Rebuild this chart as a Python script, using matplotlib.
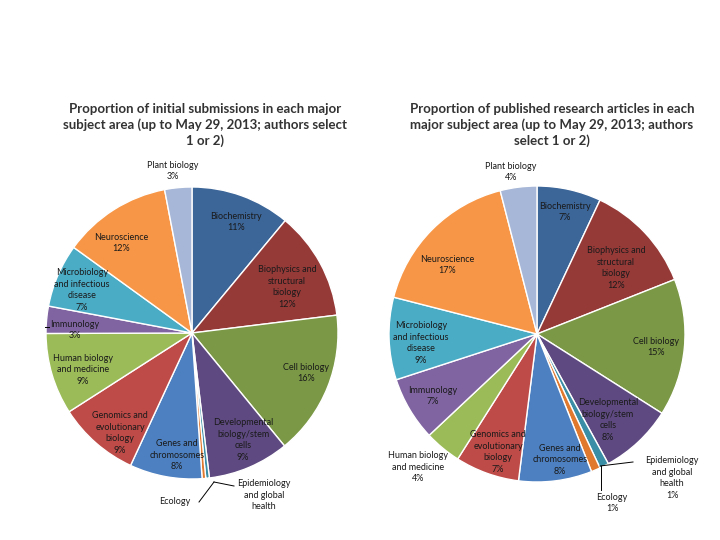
import matplotlib
matplotlib.use("Agg")
import matplotlib.pyplot as plt

categories = ["Biochemistry", "Biophysics and\nstructural\nbiology", "Cell biology",
              "Developmental\nbiology/stem\ncells", "Epidemiology\nand global\nhealth", "Ecology",
              "Genes and\nchromosomes", "Genomics and\nevolutionary\nbiology",
              "Human biology\nand medicine", "Immunology",
              "Microbiology\nand infectious\ndisease", "Neuroscience", "Plant biology"]
submissions = [11, 12, 16, 9, 0.4, 0.4, 8, 9, 9, 3, 7, 12, 3]
submission_labels = ["11%", "12%", "16%", "9%", "", "", "8%", "9%", "9%", "3%", "7%", "12%", "3%"]
published = [7, 12, 15, 8, 1, 1, 8, 7, 4, 7, 9, 17, 4]
published_labels = ["7%", "12%", "15%", "8%", "1%", "1%", "8%", "7%", "4%", "7%", "9%", "17%", "4%"]
title_left = "Proportion of initial submissions in each major\nsubject area (up to May 29, 2013; authors select\n1 or 2)"
title_right = "Proportion of published research articles in each\nmajor subject area (up to May 29, 2013; authors\nselect 1 or 2)"

colors = ["#3C6598", "#963A38", "#7A9845", "#5E4A80", "#3A8EA6", "#E0782E",
          "#4D80C0", "#BE4B48", "#9BBB59", "#8064A2", "#4BACC6", "#F79646", "#A7B7D7"]

# label layout (pixel coords, y from top)
left_pos = [(236, 222), (287, 287), (306, 373), (243, 440), (264, 495), (175, 502),
            (177, 455), (120, 433), (83, 370), (75, 330), (82, 290), (121, 243), (173, 171)]
right_pos = [(565, 212), (616, 268), (656, 347), (608, 420), (672, 478), (612, 503),
             (560, 460), (498, 452), (418, 467), (433, 396), (421, 343), (447, 265), (511, 172)]

W, H = 720, 540
fig = plt.figure(figsize=(7.2, 5.4), dpi=100)
ax = fig.add_axes([0, 0, 1, 1])

font = "Lato"

def draw(values, pcts, center, radius, pos):
    ax.pie(values, colors=colors, startangle=90, counterclock=False,
           center=(center[0], H - center[1]), radius=radius,
           wedgeprops=dict(edgecolor="white", linewidth=1.0), frame=True)
    for name, p, (x, y) in zip(categories, pcts, pos):
        txt = name + ("\n" + p if p else "")
        ax.text(x, H - y, txt, ha="center", va="center", fontsize=6.5,
                family=font, color="#1a1a1a", linespacing=1.35)

draw(submissions, submission_labels, (192, 333), 146, left_pos)
draw(published, published_labels, (537, 334), 148, right_pos)
ax.set_xlim(0, W)
ax.set_ylim(0, H)
ax.set_aspect("equal")
ax.axis("off")

# leader lines
lc = dict(color="black", linewidth=0.7)
ax.plot([214, 234], [H - 482, H - 486], **lc)
ax.plot([214, 199], [H - 482, H - 502], **lc)
ax.plot([45, 49], [H - 327, H - 327], **lc)
ax.plot([600, 633], [H - 466, H - 462], **lc)
ax.plot([601, 601], [H - 466, H - 490], **lc)

ax.text(205, H - 125, title_left, ha="center", va="center", fontsize=9.5,
        family=font, color="#333333", fontweight="bold", linespacing=1.3)
ax.text(552, H - 125, title_right, ha="center", va="center", fontsize=9.5,
        family=font, color="#333333", fontweight="bold", linespacing=1.3)

fig.savefig("out.png", dpi=100)
